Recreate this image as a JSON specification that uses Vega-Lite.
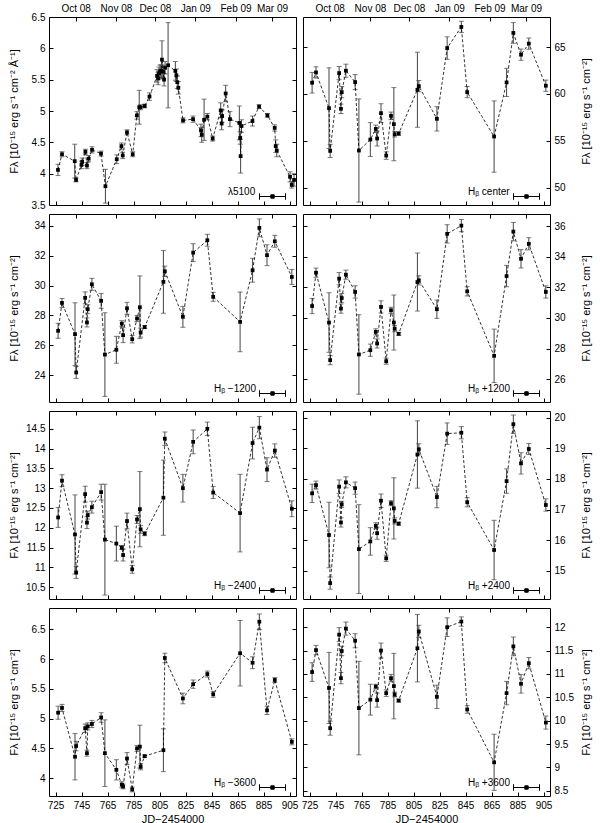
{
 "$schema": "https://vega.github.io/schema/vega-lite/v6.json",
 "background": "white",
 "padding": {"left": 7, "top": 2, "right": 5, "bottom": 5},
 "bounds": "flush",
 "columns": 2,
 "spacing": {"row": 9, "column": 7},
 "datasets": {
  "l5100": [
   {"jd":726.9,"f":4.06,"e":0.09},{"jd":730.0,"f":4.31,"e":0.04},{"jd":739.8,"f":4.20,"e":0.27},{"jd":740.8,"f":3.90,"e":0.03},
   {"jd":745.0,"f":4.14,"e":0.06},{"jd":745.5,"f":4.19,"e":0.06},{"jd":748.0,"f":4.35,"e":0.04},{"jd":749.2,"f":4.13,"e":0.05},
   {"jd":750.5,"f":4.24,"e":0.05},{"jd":753.1,"f":4.38,"e":0.05},{"jd":760.0,"f":4.32,"e":0.04},{"jd":763.4,"f":3.80,"e":0.27},
   {"jd":772.1,"f":4.23,"e":0.07},{"jd":775.7,"f":4.44,"e":0.05},{"jd":776.7,"f":4.29,"e":0.05},{"jd":780.0,"f":4.66,"e":0.04},
   {"jd":784.4,"f":4.31,"e":0.04},{"jd":787.6,"f":4.93,"e":0.06},{"jd":789.4,"f":5.06,"e":0.27},{"jd":790.4,"f":5.06,"e":0.04},
   {"jd":793.6,"f":5.08,"e":0.03},{"jd":797.3,"f":5.23,"e":0.06},{"jd":803.1,"f":5.56,"e":0.1},{"jd":803.9,"f":5.52,"e":0.1},
   {"jd":804.6,"f":5.60,"e":0.1},{"jd":805.4,"f":5.63,"e":0.1},{"jd":806.2,"f":5.64,"e":0.1},{"jd":806.9,"f":5.82,"e":0.3},
   {"jd":807.7,"f":5.63,"e":0.1},{"jd":808.5,"f":5.50,"e":0.1},{"jd":809.3,"f":5.69,"e":0.1},{"jd":811.6,"f":5.73,"e":0.68},
   {"jd":817.2,"f":5.64,"e":0.15},{"jd":818.0,"f":5.57,"e":0.1},{"jd":818.7,"f":5.46,"e":0.1},{"jd":819.5,"f":5.37,"e":0.1},
   {"jd":823.1,"f":4.85,"e":0.04},{"jd":830.8,"f":4.87,"e":0.05},{"jd":836.9,"f":4.69,"e":0.1},{"jd":837.5,"f":4.62,"e":0.12},
   {"jd":839.3,"f":4.86,"e":0.33},{"jd":841.8,"f":4.91,"e":0.05},{"jd":845.9,"f":4.56,"e":0.04},{"jd":852.1,"f":5.01,"e":0.12},
   {"jd":852.8,"f":4.80,"e":0.1},{"jd":853.2,"f":4.92,"e":0.1},{"jd":855.9,"f":5.28,"e":0.13},{"jd":859.2,"f":4.87,"e":0.12},
   {"jd":866.4,"f":4.81,"e":0.27},{"jd":867.1,"f":4.57,"e":0.1},{"jd":867.4,"f":4.28,"e":0.27},{"jd":868.1,"f":4.76,"e":0.1},
   {"jd":876.5,"f":4.84,"e":0.08},{"jd":881.6,"f":5.07,"e":0.03},{"jd":888.0,"f":4.93,"e":0.03},{"jd":893.6,"f":4.73,"e":0.05},
   {"jd":894.4,"f":4.44,"e":0.1},{"jd":895.2,"f":4.37,"e":0.1},{"jd":905.4,"f":3.95,"e":0.08},{"jd":906.7,"f":3.82,"e":0.05},
   {"jd":908.5,"f":3.90,"e":0.1}
  ],
  "hc": [
   {"jd":727.0,"f":61.19,"e":1.1},{"jd":730.0,"f":62.29,"e":0.6},{"jd":740.0,"f":58.48,"e":4.3},{"jd":740.9,"f":53.92,"e":0.7},
   {"jd":747.8,"f":62.22,"e":0.7},{"jd":749.2,"f":58.41,"e":0.5},{"jd":749.8,"f":60.19,"e":0.6},{"jd":753.0,"f":62.47,"e":0.7},
   {"jd":760.1,"f":61.26,"e":0.8},{"jd":763.0,"f":53.96,"e":5.5},{"jd":771.8,"f":55.13,"e":1.8},{"jd":776.0,"f":56.27,"e":0.4},
   {"jd":777.0,"f":55.24,"e":0.8},{"jd":780.0,"f":57.95,"e":1.0},{"jd":784.0,"f":53.42,"e":0.4},{"jd":787.7,"f":57.66,"e":0.4},
   {"jd":789.9,"f":56.77,"e":3.9},{"jd":790.5,"f":55.70,"e":0.3},{"jd":793.6,"f":55.77,"e":0.2},{"jd":808.0,"f":60.44,"e":4.0},
   {"jd":809.1,"f":60.83,"e":0.6},{"jd":823.0,"f":57.34,"e":1.3},{"jd":830.9,"f":64.89,"e":1.2},{"jd":841.8,"f":67.14,"e":0.6},
   {"jd":846.3,"f":60.19,"e":0.6},{"jd":867.0,"f":55.45,"e":3.8},{"jd":876.6,"f":61.22,"e":1.5},{"jd":881.8,"f":66.50,"e":1.1},
   {"jd":887.7,"f":64.18,"e":0.6},{"jd":893.7,"f":65.36,"e":0.6},{"jd":906.8,"f":60.87,"e":0.6}
  ],
  "hm12": [
   {"jd":727.0,"f":26.97,"e":0.5},{"jd":730.0,"f":28.84,"e":0.3},{"jd":740.0,"f":26.75,"e":2.1},{"jd":740.9,"f":24.18,"e":0.4},
   {"jd":747.8,"f":29.18,"e":0.4},{"jd":749.2,"f":27.53,"e":0.3},{"jd":749.8,"f":28.42,"e":0.3},{"jd":753.0,"f":30.09,"e":0.4},
   {"jd":760.1,"f":28.98,"e":0.5},{"jd":763.0,"f":25.38,"e":2.8},{"jd":771.8,"f":25.70,"e":0.9},{"jd":776.0,"f":27.45,"e":0.2},
   {"jd":777.0,"f":26.68,"e":0.5},{"jd":780.0,"f":28.48,"e":0.4},{"jd":784.0,"f":26.41,"e":0.25},{"jd":787.7,"f":27.8,"e":0.2},
   {"jd":789.9,"f":28.55,"e":2.1},{"jd":790.5,"f":26.85,"e":0.3},{"jd":793.6,"f":27.22,"e":0.1},{"jd":808.0,"f":30.25,"e":2.1},
   {"jd":809.1,"f":30.96,"e":0.35},{"jd":823.0,"f":27.91,"e":0.7},{"jd":830.9,"f":32.21,"e":0.6},{"jd":841.8,"f":33.04,"e":0.4},
   {"jd":846.3,"f":29.25,"e":0.3},{"jd":867.0,"f":27.57,"e":2.0},{"jd":876.6,"f":31.03,"e":0.8},{"jd":881.8,"f":33.87,"e":0.6},
   {"jd":887.7,"f":32.04,"e":0.7},{"jd":893.7,"f":32.97,"e":0.4},{"jd":906.8,"f":30.58,"e":0.5}
  ],
  "hp12": [
   {"jd":727.0,"f":30.78,"e":0.5},{"jd":730.0,"f":32.96,"e":0.3},{"jd":740.0,"f":29.70,"e":1.95},{"jd":740.9,"f":27.24,"e":0.3},
   {"jd":747.8,"f":32.57,"e":0.4},{"jd":749.2,"f":30.61,"e":0.3},{"jd":749.8,"f":31.30,"e":0.3},{"jd":753.0,"f":32.83,"e":0.3},
   {"jd":760.1,"f":31.70,"e":0.4},{"jd":763.0,"f":27.61,"e":2.6},{"jd":771.8,"f":27.89,"e":0.4},{"jd":776.0,"f":29.09,"e":0.2},
   {"jd":777.0,"f":28.33,"e":0.3},{"jd":780.0,"f":30.72,"e":0.4},{"jd":784.0,"f":27.17,"e":0.2},{"jd":787.7,"f":30.50,"e":0.2},
   {"jd":789.9,"f":29.70,"e":1.8},{"jd":790.5,"f":29.30,"e":0.2},{"jd":793.6,"f":28.96,"e":0.1},{"jd":808.0,"f":32.35,"e":1.9},
   {"jd":809.1,"f":32.46,"e":0.3},{"jd":823.0,"f":30.57,"e":0.6},{"jd":830.9,"f":35.50,"e":0.6},{"jd":841.8,"f":36.04,"e":0.4},
   {"jd":846.3,"f":31.74,"e":0.3},{"jd":867.0,"f":27.52,"e":1.75},{"jd":876.6,"f":32.74,"e":0.7},{"jd":881.8,"f":35.65,"e":0.6},
   {"jd":887.7,"f":33.87,"e":0.6},{"jd":893.7,"f":34.85,"e":0.4},{"jd":906.8,"f":31.70,"e":0.4}
  ],
  "hm24": [
   {"jd":727.0,"f":12.26,"e":0.25},{"jd":730.0,"f":13.19,"e":0.15},{"jd":740.0,"f":11.83,"e":1.0},{"jd":740.9,"f":10.87,"e":0.15},
   {"jd":747.8,"f":12.85,"e":0.2},{"jd":749.2,"f":12.13,"e":0.15},{"jd":749.8,"f":12.32,"e":0.1},{"jd":753.0,"f":12.52,"e":0.15},
   {"jd":760.1,"f":12.90,"e":0.2},{"jd":763.0,"f":11.70,"e":1.4},{"jd":771.8,"f":11.60,"e":0.44},{"jd":776.0,"f":11.50,"e":0.05},
   {"jd":777.0,"f":11.31,"e":0.15},{"jd":780.0,"f":12.17,"e":0.2},{"jd":784.0,"f":10.95,"e":0.1},{"jd":787.7,"f":12.21,"e":0.1},
   {"jd":789.9,"f":12.47,"e":0.95},{"jd":790.5,"f":11.96,"e":0.1},{"jd":793.6,"f":11.85,"e":0.05},{"jd":808.0,"f":12.76,"e":0.95},
   {"jd":809.1,"f":14.25,"e":0.17},{"jd":823.0,"f":13.00,"e":0.35},{"jd":830.9,"f":14.17,"e":0.3},{"jd":841.8,"f":14.50,"e":0.17},
   {"jd":846.3,"f":12.89,"e":0.15},{"jd":867.0,"f":12.37,"e":0.98},{"jd":876.6,"f":14.14,"e":0.4},{"jd":881.8,"f":14.53,"e":0.28},
   {"jd":887.7,"f":13.47,"e":0.3},{"jd":893.7,"f":13.95,"e":0.17},{"jd":906.8,"f":12.48,"e":0.2}
  ],
  "hp24": [
   {"jd":727.0,"f":17.53,"e":0.3},{"jd":730.0,"f":17.80,"e":0.13},{"jd":740.0,"f":16.17,"e":1.07},{"jd":740.9,"f":14.60,"e":0.2},
   {"jd":747.8,"f":17.75,"e":0.22},{"jd":749.2,"f":16.58,"e":0.15},{"jd":749.8,"f":17.17,"e":0.1},{"jd":753.0,"f":17.89,"e":0.18},
   {"jd":760.1,"f":17.70,"e":0.2},{"jd":763.0,"f":15.71,"e":1.45},{"jd":771.8,"f":15.96,"e":0.45},{"jd":776.0,"f":16.47,"e":0.1},
   {"jd":777.0,"f":16.23,"e":0.2},{"jd":780.0,"f":17.29,"e":0.22},{"jd":784.0,"f":15.41,"e":0.1},{"jd":787.7,"f":17.21,"e":0.08},
   {"jd":789.9,"f":17.04,"e":1.0},{"jd":790.5,"f":16.63,"e":0.1},{"jd":793.6,"f":16.54,"e":0.05},{"jd":808.0,"f":18.80,"e":1.1},
   {"jd":809.1,"f":18.97,"e":0.18},{"jd":823.0,"f":17.41,"e":0.35},{"jd":830.9,"f":19.48,"e":0.35},{"jd":841.8,"f":19.51,"e":0.2},
   {"jd":846.3,"f":17.24,"e":0.15},{"jd":867.0,"f":15.68,"e":0.97},{"jd":876.6,"f":17.93,"e":0.4},{"jd":881.8,"f":19.79,"e":0.3},
   {"jd":887.7,"f":18.51,"e":0.35},{"jd":893.7,"f":18.98,"e":0.18},{"jd":906.8,"f":17.15,"e":0.2}
  ],
  "hm36": [
   {"jd":727.0,"f":5.10,"e":0.11},{"jd":730.0,"f":5.18,"e":0.06},{"jd":740.0,"f":4.36,"e":0.39},{"jd":740.9,"f":4.54,"e":0.08},
   {"jd":747.8,"f":4.84,"e":0.07},{"jd":749.2,"f":4.42,"e":0.05},{"jd":749.8,"f":4.87,"e":0.06},{"jd":753.0,"f":4.91,"e":0.06},
   {"jd":760.1,"f":5.02,"e":0.08},{"jd":763.0,"f":4.42,"e":0.56},{"jd":771.8,"f":4.14,"e":0.17},{"jd":776.0,"f":3.89,"e":0.05},
   {"jd":777.0,"f":3.86,"e":0.04},{"jd":780.0,"f":4.33,"e":0.1},{"jd":784.0,"f":3.81,"e":0.04},{"jd":787.7,"f":4.50,"e":0.05},
   {"jd":789.9,"f":4.53,"e":0.36},{"jd":790.5,"f":4.19,"e":0.05},{"jd":793.6,"f":4.37,"e":0.02},{"jd":808.0,"f":4.47,"e":0.36},
   {"jd":809.1,"f":6.02,"e":0.08},{"jd":823.0,"f":5.34,"e":0.09},{"jd":830.9,"f":5.58,"e":0.07},{"jd":841.8,"f":5.75,"e":0.05},
   {"jd":846.3,"f":5.41,"e":0.05},{"jd":867.0,"f":6.10,"e":0.55},{"jd":876.6,"f":5.94,"e":0.1},{"jd":881.8,"f":6.63,"e":0.13},
   {"jd":887.7,"f":5.14,"e":0.07},{"jd":893.7,"f":5.65,"e":0.04},{"jd":906.8,"f":4.61,"e":0.05}
  ],
  "hp36": [
   {"jd":727.0,"f":11.04,"e":0.2},{"jd":730.0,"f":11.51,"e":0.1},{"jd":740.0,"f":10.70,"e":0.76},{"jd":740.9,"f":9.84,"e":0.15},
   {"jd":747.8,"f":11.84,"e":0.15},{"jd":749.2,"f":10.91,"e":0.12},{"jd":749.8,"f":11.49,"e":0.1},{"jd":753.0,"f":11.97,"e":0.14},
   {"jd":760.1,"f":11.71,"e":0.15},{"jd":763.0,"f":10.27,"e":1.0},{"jd":771.8,"f":10.45,"e":0.33},{"jd":776.0,"f":10.73,"e":0.05},
   {"jd":777.0,"f":10.44,"e":0.15},{"jd":780.0,"f":11.50,"e":0.16},{"jd":784.0,"f":10.59,"e":0.07},{"jd":787.7,"f":10.91,"e":0.08},
   {"jd":789.9,"f":10.74,"e":0.7},{"jd":790.5,"f":10.56,"e":0.05},{"jd":793.6,"f":10.43,"e":0.03},{"jd":808.0,"f":11.55,"e":0.72},
   {"jd":809.1,"f":11.91,"e":0.13},{"jd":823.0,"f":10.51,"e":0.25},{"jd":830.9,"f":12.00,"e":0.2},{"jd":841.8,"f":12.12,"e":0.1},
   {"jd":846.3,"f":10.24,"e":0.08},{"jd":867.0,"f":9.11,"e":0.6},{"jd":876.6,"f":10.59,"e":0.25},{"jd":881.8,"f":11.59,"e":0.2},
   {"jd":887.7,"f":10.79,"e":0.2},{"jd":893.7,"f":11.23,"e":0.12},{"jd":906.8,"f":9.96,"e":0.14}
  ]
 },
 "concat": [
  {
   "width": 247, "height": 188, "data": {"name": "l5100"},
   "layer": [
    {"mark": {"type": "errorbar", "ticks": true, "color": "#444", "thickness": 1},
     "encoding": {"x": {"field": "jd", "type": "quantitative", "scale": {"domain": [720, 910], "nice": false, "zero": false}, "axis": null},
      "y": {"field": "f", "type": "quantitative", "scale": {"domain": [3.5, 6.5], "nice": false, "zero": false}, "axis": null},
      "yError": {"field": "e"}}},
    {"mark": {"type": "line", "color": "black", "strokeDash": [3, 2], "strokeWidth": 0.8},
     "encoding": {"x": {"field": "jd", "type": "quantitative", "axis": {"orient": "bottom", "values": [725,745,765,785,805,825,845,865,885,905], "labels": false, "title": null}},
      "y": {"field": "f", "type": "quantitative", "axis": {"orient": "left", "values": [3.5,4,4.5,5,5.5,6,6.5], "format": "~g", "title": "Fλ [10⁻¹⁵ erg s⁻¹ cm⁻² Å⁻¹]", "minExtent": 26, "maxExtent": 26, "titlePadding": 4}}}},
    {"mark": {"type": "square", "size": 14, "opacity": 1, "filled": true},
     "encoding": {"x": {"field": "jd", "type": "quantitative", "axis": {"orient": "top", "values": [740.5,771.5,801.5,832.5,863.5,891.5], "labelExpr": "datum.value < 750 ? 'Oct 08' : datum.value < 780 ? 'Nov 08' : datum.value < 815 ? 'Dec 08' : datum.value < 845 ? 'Jan 09' : datum.value < 870 ? 'Feb 09' : 'Mar 09'", "title": null}},
      "y": {"field": "f", "type": "quantitative", "axis": {"orient": "right", "values": [3.5,4,4.5,5,5.5,6,6.5], "labels": false, "title": null, "minExtent": 0, "maxExtent": 0}},
      "color": {"datum": "λ5100", "type": "nominal", "scale": {"range": ["black"]}, "legend": {"orient": "bottom-right", "offset": 3, "padding": 0, "title": "λ5100", "titleOrient": "left", "titleAngle": 0, "titleBaseline": "middle", "titlePadding": 3, "labelExpr": "''", "labelOffset": 7, "symbolType": "M-1,0H1M-1,-0.25V0.25M1,-0.25V0.25M-0.13,-0.13H0.13V0.13H-0.13Z", "symbolSize": 676, "symbolStrokeColor": "black", "symbolFillColor": "black", "symbolStrokeWidth": 1}}}}
   ],
   "resolve": {"axis": {"x": "independent", "y": "independent"}}
  },
  {
   "width": 247, "height": 188, "data": {"name": "hc"},
   "layer": [
    {"mark": {"type": "errorbar", "ticks": true, "color": "#444", "thickness": 1},
     "encoding": {"x": {"field": "jd", "type": "quantitative", "scale": {"domain": [720, 910], "nice": false, "zero": false}, "axis": null},
      "y": {"field": "f", "type": "quantitative", "scale": {"domain": [48.15, 68.2], "nice": false, "zero": false}, "axis": null},
      "yError": {"field": "e"}}},
    {"mark": {"type": "line", "color": "black", "strokeDash": [3, 2], "strokeWidth": 0.8},
     "encoding": {"x": {"field": "jd", "type": "quantitative", "axis": {"orient": "bottom", "values": [725,745,765,785,805,825,845,865,885,905], "labels": false, "title": null}},
      "y": {"field": "f", "type": "quantitative", "axis": {"orient": "right", "values": [50,55,60,65], "format": "~g", "title": "Fλ [10⁻¹⁵ erg s⁻¹ cm⁻²]", "titleAngle": 270, "titleBaseline": "top", "minExtent": 26, "maxExtent": 26, "titlePadding": 4}}}},
    {"mark": {"type": "square", "size": 14, "opacity": 1, "filled": true},
     "encoding": {"x": {"field": "jd", "type": "quantitative", "axis": {"orient": "top", "values": [740.5,771.5,801.5,832.5,863.5,891.5], "labelExpr": "datum.value < 750 ? 'Oct 08' : datum.value < 780 ? 'Nov 08' : datum.value < 815 ? 'Dec 08' : datum.value < 845 ? 'Jan 09' : datum.value < 870 ? 'Feb 09' : 'Mar 09'", "title": null}},
      "y": {"field": "f", "type": "quantitative", "axis": {"orient": "left", "values": [50,55,60,65], "labels": false, "title": null, "minExtent": 0, "maxExtent": 0}},
      "color": {"datum": "Hᵦ center", "type": "nominal", "scale": {"range": ["black"]}, "legend": {"orient": "bottom-right", "offset": 3, "padding": 0, "title": "Hᵦ center", "titleOrient": "left", "titleAngle": 0, "titleBaseline": "middle", "titlePadding": 3, "labelExpr": "''", "labelOffset": 7, "symbolType": "M-1,0H1M-1,-0.25V0.25M1,-0.25V0.25M-0.13,-0.13H0.13V0.13H-0.13Z", "symbolSize": 676, "symbolStrokeColor": "black", "symbolFillColor": "black", "symbolStrokeWidth": 1}}}}
   ],
   "resolve": {"axis": {"x": "independent", "y": "independent"}}
  },
  {
   "width": 247, "height": 188, "data": {"name": "hm12"},
   "layer": [
    {"mark": {"type": "errorbar", "ticks": true, "color": "#444", "thickness": 1},
     "encoding": {"x": {"field": "jd", "type": "quantitative", "scale": {"domain": [720, 910], "nice": false, "zero": false}, "axis": null},
      "y": {"field": "f", "type": "quantitative", "scale": {"domain": [22.2, 34.8], "nice": false, "zero": false}, "axis": null},
      "yError": {"field": "e"}}},
    {"mark": {"type": "line", "color": "black", "strokeDash": [3, 2], "strokeWidth": 0.8},
     "encoding": {"x": {"field": "jd", "type": "quantitative", "axis": {"orient": "bottom", "values": [725,745,765,785,805,825,845,865,885,905], "labels": false, "title": null}},
      "y": {"field": "f", "type": "quantitative", "axis": {"orient": "left", "values": [24,26,28,30,32,34], "format": "~g", "title": "Fλ [10⁻¹⁵ erg s⁻¹ cm⁻²]", "minExtent": 26, "maxExtent": 26, "titlePadding": 4}}}},
    {"mark": {"type": "square", "size": 14, "opacity": 1, "filled": true},
     "encoding": {"x": {"field": "jd", "type": "quantitative", "axis": {"orient": "top", "values": [740.5,771.5,801.5,832.5,863.5,891.5], "labels": false, "title": null}},
      "y": {"field": "f", "type": "quantitative", "axis": {"orient": "right", "values": [24,26,28,30,32,34], "labels": false, "title": null, "minExtent": 0, "maxExtent": 0}},
      "color": {"datum": "Hᵦ −1200", "type": "nominal", "scale": {"range": ["black"]}, "legend": {"orient": "bottom-right", "offset": 3, "padding": 0, "title": "Hᵦ −1200", "titleOrient": "left", "titleAngle": 0, "titleBaseline": "middle", "titlePadding": 3, "labelExpr": "''", "labelOffset": 7, "symbolType": "M-1,0H1M-1,-0.25V0.25M1,-0.25V0.25M-0.13,-0.13H0.13V0.13H-0.13Z", "symbolSize": 676, "symbolStrokeColor": "black", "symbolFillColor": "black", "symbolStrokeWidth": 1}}}}
   ],
   "resolve": {"axis": {"x": "independent", "y": "independent"}}
  },
  {
   "width": 247, "height": 188, "data": {"name": "hp12"},
   "layer": [
    {"mark": {"type": "errorbar", "ticks": true, "color": "#444", "thickness": 1},
     "encoding": {"x": {"field": "jd", "type": "quantitative", "scale": {"domain": [720, 910], "nice": false, "zero": false}, "axis": null},
      "y": {"field": "f", "type": "quantitative", "scale": {"domain": [24.5, 36.8], "nice": false, "zero": false}, "axis": null},
      "yError": {"field": "e"}}},
    {"mark": {"type": "line", "color": "black", "strokeDash": [3, 2], "strokeWidth": 0.8},
     "encoding": {"x": {"field": "jd", "type": "quantitative", "axis": {"orient": "bottom", "values": [725,745,765,785,805,825,845,865,885,905], "labels": false, "title": null}},
      "y": {"field": "f", "type": "quantitative", "axis": {"orient": "right", "values": [26,28,30,32,34,36], "format": "~g", "title": "Fλ [10⁻¹⁵ erg s⁻¹ cm⁻²]", "titleAngle": 270, "titleBaseline": "top", "minExtent": 26, "maxExtent": 26, "titlePadding": 4}}}},
    {"mark": {"type": "square", "size": 14, "opacity": 1, "filled": true},
     "encoding": {"x": {"field": "jd", "type": "quantitative", "axis": {"orient": "top", "values": [740.5,771.5,801.5,832.5,863.5,891.5], "labels": false, "title": null}},
      "y": {"field": "f", "type": "quantitative", "axis": {"orient": "left", "values": [26,28,30,32,34,36], "labels": false, "title": null, "minExtent": 0, "maxExtent": 0}},
      "color": {"datum": "Hᵦ +1200", "type": "nominal", "scale": {"range": ["black"]}, "legend": {"orient": "bottom-right", "offset": 3, "padding": 0, "title": "Hᵦ +1200", "titleOrient": "left", "titleAngle": 0, "titleBaseline": "middle", "titlePadding": 3, "labelExpr": "''", "labelOffset": 7, "symbolType": "M-1,0H1M-1,-0.25V0.25M1,-0.25V0.25M-0.13,-0.13H0.13V0.13H-0.13Z", "symbolSize": 676, "symbolStrokeColor": "black", "symbolFillColor": "black", "symbolStrokeWidth": 1}}}}
   ],
   "resolve": {"axis": {"x": "independent", "y": "independent"}}
  },
  {
   "width": 247, "height": 188, "data": {"name": "hm24"},
   "layer": [
    {"mark": {"type": "errorbar", "ticks": true, "color": "#444", "thickness": 1},
     "encoding": {"x": {"field": "jd", "type": "quantitative", "scale": {"domain": [720, 910], "nice": false, "zero": false}, "axis": null},
      "y": {"field": "f", "type": "quantitative", "scale": {"domain": [10.2, 14.95], "nice": false, "zero": false}, "axis": null},
      "yError": {"field": "e"}}},
    {"mark": {"type": "line", "color": "black", "strokeDash": [3, 2], "strokeWidth": 0.8},
     "encoding": {"x": {"field": "jd", "type": "quantitative", "axis": {"orient": "bottom", "values": [725,745,765,785,805,825,845,865,885,905], "labels": false, "title": null}},
      "y": {"field": "f", "type": "quantitative", "axis": {"orient": "left", "values": [10.5,11,11.5,12,12.5,13,13.5,14,14.5], "format": "~g", "title": "Fλ [10⁻¹⁵ erg s⁻¹ cm⁻²]", "minExtent": 26, "maxExtent": 26, "titlePadding": 4}}}},
    {"mark": {"type": "square", "size": 14, "opacity": 1, "filled": true},
     "encoding": {"x": {"field": "jd", "type": "quantitative", "axis": {"orient": "top", "values": [740.5,771.5,801.5,832.5,863.5,891.5], "labels": false, "title": null}},
      "y": {"field": "f", "type": "quantitative", "axis": {"orient": "right", "values": [10.5,11,11.5,12,12.5,13,13.5,14,14.5], "labels": false, "title": null, "minExtent": 0, "maxExtent": 0}},
      "color": {"datum": "Hᵦ −2400", "type": "nominal", "scale": {"range": ["black"]}, "legend": {"orient": "bottom-right", "offset": 3, "padding": 0, "title": "Hᵦ −2400", "titleOrient": "left", "titleAngle": 0, "titleBaseline": "middle", "titlePadding": 3, "labelExpr": "''", "labelOffset": 7, "symbolType": "M-1,0H1M-1,-0.25V0.25M1,-0.25V0.25M-0.13,-0.13H0.13V0.13H-0.13Z", "symbolSize": 676, "symbolStrokeColor": "black", "symbolFillColor": "black", "symbolStrokeWidth": 1}}}}
   ],
   "resolve": {"axis": {"x": "independent", "y": "independent"}}
  },
  {
   "width": 247, "height": 188, "data": {"name": "hp24"},
   "layer": [
    {"mark": {"type": "errorbar", "ticks": true, "color": "#444", "thickness": 1},
     "encoding": {"x": {"field": "jd", "type": "quantitative", "scale": {"domain": [720, 910], "nice": false, "zero": false}, "axis": null},
      "y": {"field": "f", "type": "quantitative", "scale": {"domain": [14.08, 20.22], "nice": false, "zero": false}, "axis": null},
      "yError": {"field": "e"}}},
    {"mark": {"type": "line", "color": "black", "strokeDash": [3, 2], "strokeWidth": 0.8},
     "encoding": {"x": {"field": "jd", "type": "quantitative", "axis": {"orient": "bottom", "values": [725,745,765,785,805,825,845,865,885,905], "labels": false, "title": null}},
      "y": {"field": "f", "type": "quantitative", "axis": {"orient": "right", "values": [15,16,17,18,19,20], "format": "~g", "title": "Fλ [10⁻¹⁵ erg s⁻¹ cm⁻²]", "titleAngle": 270, "titleBaseline": "top", "minExtent": 26, "maxExtent": 26, "titlePadding": 4}}}},
    {"mark": {"type": "square", "size": 14, "opacity": 1, "filled": true},
     "encoding": {"x": {"field": "jd", "type": "quantitative", "axis": {"orient": "top", "values": [740.5,771.5,801.5,832.5,863.5,891.5], "labels": false, "title": null}},
      "y": {"field": "f", "type": "quantitative", "axis": {"orient": "left", "values": [15,16,17,18,19,20], "labels": false, "title": null, "minExtent": 0, "maxExtent": 0}},
      "color": {"datum": "Hᵦ +2400", "type": "nominal", "scale": {"range": ["black"]}, "legend": {"orient": "bottom-right", "offset": 3, "padding": 0, "title": "Hᵦ +2400", "titleOrient": "left", "titleAngle": 0, "titleBaseline": "middle", "titlePadding": 3, "labelExpr": "''", "labelOffset": 7, "symbolType": "M-1,0H1M-1,-0.25V0.25M1,-0.25V0.25M-0.13,-0.13H0.13V0.13H-0.13Z", "symbolSize": 676, "symbolStrokeColor": "black", "symbolFillColor": "black", "symbolStrokeWidth": 1}}}}
   ],
   "resolve": {"axis": {"x": "independent", "y": "independent"}}
  },
  {
   "width": 247, "height": 188, "data": {"name": "hm36"},
   "layer": [
    {"mark": {"type": "errorbar", "ticks": true, "color": "#444", "thickness": 1},
     "encoding": {"x": {"field": "jd", "type": "quantitative", "scale": {"domain": [720, 910], "nice": false, "zero": false}, "axis": null},
      "y": {"field": "f", "type": "quantitative", "scale": {"domain": [3.7, 6.86], "nice": false, "zero": false}, "axis": null},
      "yError": {"field": "e"}}},
    {"mark": {"type": "line", "color": "black", "strokeDash": [3, 2], "strokeWidth": 0.8},
     "encoding": {"x": {"field": "jd", "type": "quantitative", "axis": {"orient": "bottom", "values": [725,745,765,785,805,825,845,865,885,905], "format": "d", "title": "JD−2454000", "titlePadding": 3}},
      "y": {"field": "f", "type": "quantitative", "axis": {"orient": "left", "values": [4,4.5,5,5.5,6,6.5], "format": "~g", "title": "Fλ [10⁻¹⁵ erg s⁻¹ cm⁻²]", "minExtent": 26, "maxExtent": 26, "titlePadding": 4}}}},
    {"mark": {"type": "square", "size": 14, "opacity": 1, "filled": true},
     "encoding": {"x": {"field": "jd", "type": "quantitative", "axis": {"orient": "top", "values": [740.5,771.5,801.5,832.5,863.5,891.5], "labels": false, "title": null}},
      "y": {"field": "f", "type": "quantitative", "axis": {"orient": "right", "values": [4,4.5,5,5.5,6,6.5], "labels": false, "title": null, "minExtent": 0, "maxExtent": 0}},
      "color": {"datum": "Hᵦ −3600", "type": "nominal", "scale": {"range": ["black"]}, "legend": {"orient": "bottom-right", "offset": 3, "padding": 0, "title": "Hᵦ −3600", "titleOrient": "left", "titleAngle": 0, "titleBaseline": "middle", "titlePadding": 3, "labelExpr": "''", "labelOffset": 7, "symbolType": "M-1,0H1M-1,-0.25V0.25M1,-0.25V0.25M-0.13,-0.13H0.13V0.13H-0.13Z", "symbolSize": 676, "symbolStrokeColor": "black", "symbolFillColor": "black", "symbolStrokeWidth": 1}}}}
   ],
   "resolve": {"axis": {"x": "independent", "y": "independent"}}
  },
  {
   "width": 247, "height": 188, "data": {"name": "hp36"},
   "layer": [
    {"mark": {"type": "errorbar", "ticks": true, "color": "#444", "thickness": 1},
     "encoding": {"x": {"field": "jd", "type": "quantitative", "scale": {"domain": [720, 910], "nice": false, "zero": false}, "axis": null},
      "y": {"field": "f", "type": "quantitative", "scale": {"domain": [8.39, 12.41], "nice": false, "zero": false}, "axis": null},
      "yError": {"field": "e"}}},
    {"mark": {"type": "line", "color": "black", "strokeDash": [3, 2], "strokeWidth": 0.8},
     "encoding": {"x": {"field": "jd", "type": "quantitative", "axis": {"orient": "bottom", "values": [725,745,765,785,805,825,845,865,885,905], "format": "d", "title": "JD−2454000", "titlePadding": 3}},
      "y": {"field": "f", "type": "quantitative", "axis": {"orient": "right", "values": [8.5,9,9.5,10,10.5,11,11.5,12], "format": "~g", "title": "Fλ [10⁻¹⁵ erg s⁻¹ cm⁻²]", "titleAngle": 270, "titleBaseline": "top", "minExtent": 26, "maxExtent": 26, "titlePadding": 4}}}},
    {"mark": {"type": "square", "size": 14, "opacity": 1, "filled": true},
     "encoding": {"x": {"field": "jd", "type": "quantitative", "axis": {"orient": "top", "values": [740.5,771.5,801.5,832.5,863.5,891.5], "labels": false, "title": null}},
      "y": {"field": "f", "type": "quantitative", "axis": {"orient": "left", "values": [8.5,9,9.5,10,10.5,11,11.5,12], "labels": false, "title": null, "minExtent": 0, "maxExtent": 0}},
      "color": {"datum": "Hᵦ +3600", "type": "nominal", "scale": {"range": ["black"]}, "legend": {"orient": "bottom-right", "offset": 3, "padding": 0, "title": "Hᵦ +3600", "titleOrient": "left", "titleAngle": 0, "titleBaseline": "middle", "titlePadding": 3, "labelExpr": "''", "labelOffset": 7, "symbolType": "M-1,0H1M-1,-0.25V0.25M1,-0.25V0.25M-0.13,-0.13H0.13V0.13H-0.13Z", "symbolSize": 676, "symbolStrokeColor": "black", "symbolFillColor": "black", "symbolStrokeWidth": 1}}}}
   ],
   "resolve": {"axis": {"x": "independent", "y": "independent"}}
  }
 ],
 "resolve": {"scale": {"x": "independent", "y": "independent", "color": "independent"}, "axis": {"x": "independent", "y": "independent"}, "legend": {"color": "independent"}},
 "config": {
  "font": "Liberation Sans",
  "view": {"stroke": "black", "strokeWidth": 1},
  "axis": {"domain": false, "grid": false, "ticks": true, "tickColor": "black", "tickSize": -4, "tickWidth": 1, "labelFont": "Liberation Sans", "labelFontSize": 10, "labelColor": "black", "labelPadding": 8, "labelFlush": false, "labelOverlap": false, "labelBound": false, "titleFont": "Liberation Sans", "titleFontSize": 11, "titleFontWeight": "normal", "titleColor": "black"},
  "legend": {"titleFont": "Liberation Sans", "titleFontSize": 10, "titleFontWeight": "normal", "titleColor": "black"}
 }
}
